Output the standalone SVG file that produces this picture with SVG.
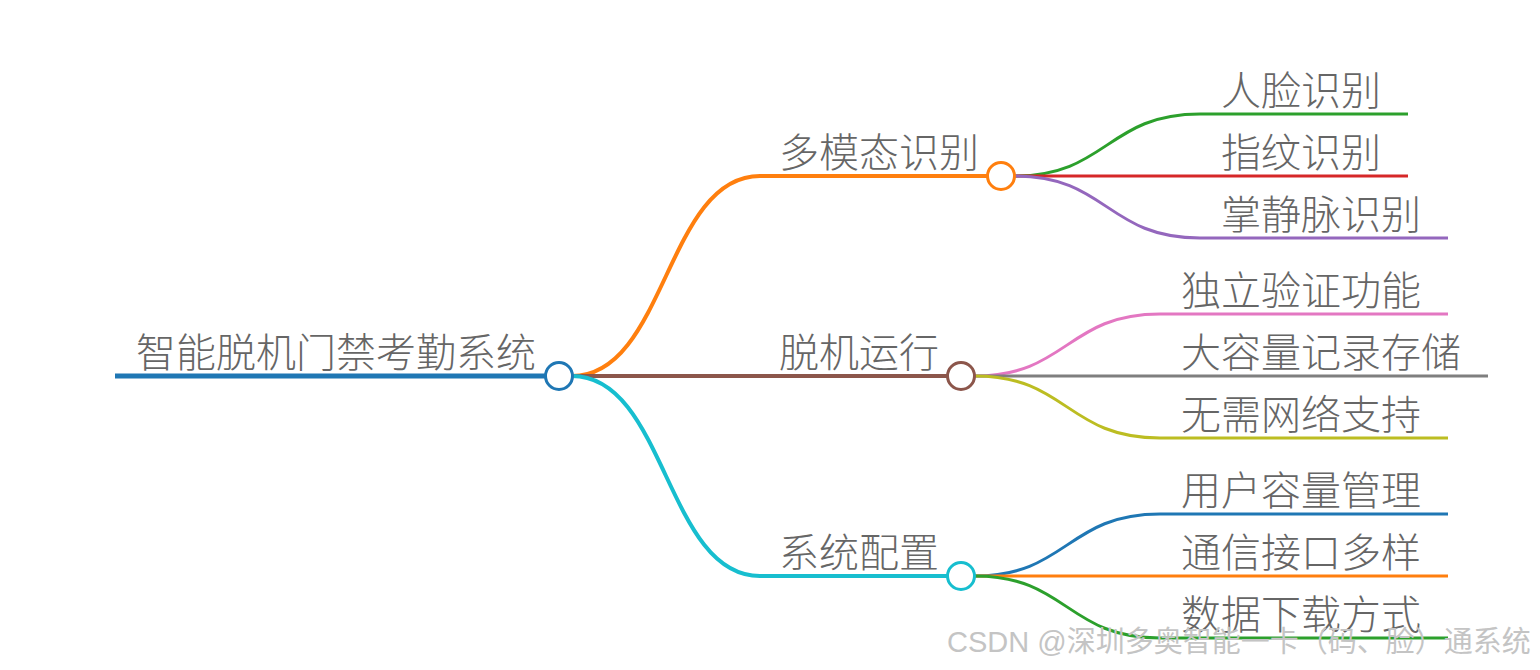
<svg xmlns="http://www.w3.org/2000/svg" width="1540" height="670" viewBox="0 0 1540 670">
<style>
text{font-family:"Noto Sans CJK SC","Noto Sans",sans-serif;font-size:40px;font-weight:300;fill:#666}
.wm{font-family:"Liberation Sans","Noto Sans CJK SC",sans-serif;font-size:29px;font-weight:400;fill:#c4c4c4}
path,line{fill:none;stroke-linecap:butt}
.d0{stroke-width:5}
.d1{stroke-width:4}
.d2{stroke-width:3}
circle{fill:#fff;stroke-width:3}
</style>
<rect width="1540" height="670" fill="#fff"/>
<g id="connectors">
<line class="d0" x1="115" y1="376" x2="545" y2="376" stroke="#1f77b4"/>
<path class="d1" d="M572,376 C666,376 666,176 760,176 L988,176" stroke="#ff7f0e"/>
<path class="d1" d="M572,376 L947,376" stroke="#8c564b"/>
<path class="d1" d="M572,376 C666,376 666,576 760,576 L947,576" stroke="#17becf"/>
<path class="d2" d="M1015,176 C1107,176 1107,114 1200,114 L1408,114" stroke="#2ca02c"/>
<path class="d2" d="M1015,176 L1408,176" stroke="#d62728"/>
<path class="d2" d="M1015,176 C1107,176 1107,238 1200,238 L1448,238" stroke="#9467bd"/>
<path class="d2" d="M975,376 C1067,376 1067,314 1160,314 L1448,314" stroke="#e377c2"/>
<path class="d2" d="M975,376 L1488,376" stroke="#7f7f7f"/>
<path class="d2" d="M975,376 C1067,376 1067,438 1160,438 L1448,438" stroke="#bcbd22"/>
<path class="d2" d="M975,576 C1067,576 1067,514 1160,514 L1448,514" stroke="#1f77b4"/>
<path class="d2" d="M975,576 L1448,576" stroke="#ff7f0e"/>
<path class="d2" d="M975,576 C1067,576 1067,638 1160,638 L1448,638" stroke="#2ca02c"/>
</g>
<g id="root"><text x="136" y="367">智能脱机门禁考勤系统</text><circle cx="559" cy="376" r="13.5" stroke="#1f77b4"/></g>
<g id="n1"><text x="779" y="167">多模态识别</text><circle cx="1001" cy="176" r="13.5" stroke="#ff7f0e"/></g>
<g id="n2"><text x="779" y="367">脱机运行</text><circle cx="961" cy="376" r="13.5" stroke="#8c564b"/></g>
<g id="n3"><text x="779" y="567">系统配置</text><circle cx="961" cy="576" r="13.5" stroke="#17becf"/></g>
<g id="n1a"><text x="1221" y="105">人脸识别</text></g>
<g id="n1b"><text x="1221" y="167">指纹识别</text></g>
<g id="n1c"><text x="1221" y="229">掌静脉识别</text></g>
<g id="n2a"><text x="1181" y="305">独立验证功能</text></g>
<g id="n2b"><text x="1181" y="367">大容量记录存储</text></g>
<g id="n2c"><text x="1181" y="429">无需网络支持</text></g>
<g id="n3a"><text x="1181" y="505">用户容量管理</text></g>
<g id="n3b"><text x="1181" y="567">通信接口多样</text></g>
<g id="n3c"><text x="1181" y="629">数据下载方式</text></g>
<text class="wm" x="947" y="652">CSDN @深圳多奥智能一卡（码、脸）通系统</text>
</svg>
